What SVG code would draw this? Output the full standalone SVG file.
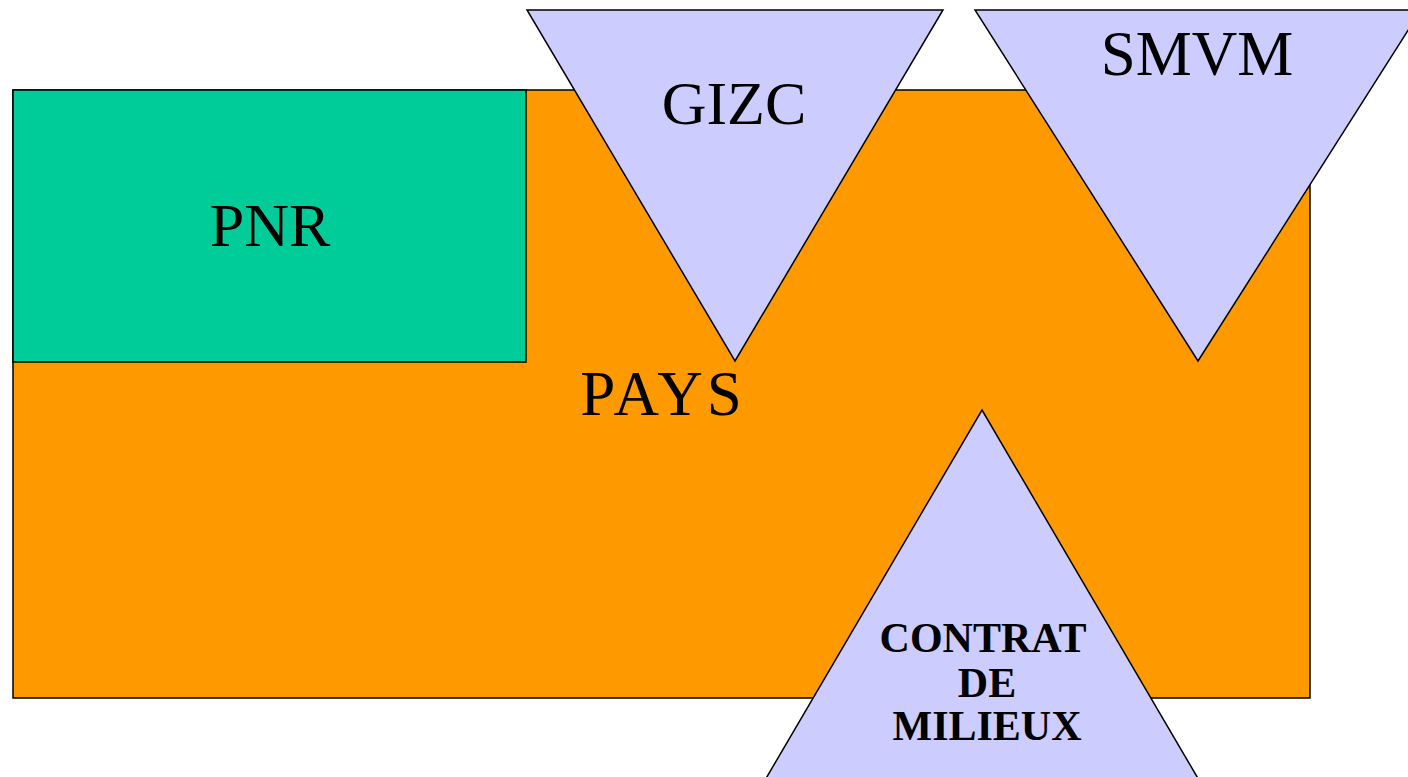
<svg xmlns="http://www.w3.org/2000/svg" width="1408" height="777" viewBox="0 0 1408 777">
<style>
.s{stroke:#000;stroke-width:1.5}
.t{font-family:"Liberation Serif","Times New Roman",serif;fill:#000;text-anchor:middle}
.b{font-weight:bold;font-size:42px}
</style>
<rect width="1408" height="777" fill="#fff"/>
<g id="pays"><rect class="s" x="13" y="90" width="1297" height="608" fill="#FF9900"/></g>
<g id="pnr"><rect class="s" x="13" y="90" width="513" height="272" fill="#00CC99"/><text class="t" x="270" y="246" font-size="62">PNR</text></g>
<g id="gizc"><polygon class="s" points="527,10 943,10 735,361" fill="#CCCCFF"/><text class="t" x="734" y="124" font-size="62">GIZC</text></g>
<g id="smvm"><polygon class="s" points="975,10 1421,10 1198,361" fill="#CCCCFF"/><text class="t" x="1197" y="75" font-size="63">SMVM</text></g>
<g id="contrat"><polygon class="s" points="982,410 1213,804 751,804" fill="#CCCCFF"/>
<text class="t b" x="983" y="652">CONTRAT</text>
<text class="t b" x="987" y="697">DE</text>
<text class="t b" x="987" y="740">MILIEUX</text></g>
<g id="pays-label"><text class="t" x="663" y="415" font-size="63" letter-spacing="4">PAYS</text></g>
<g id="connectors"></g>
</svg>
